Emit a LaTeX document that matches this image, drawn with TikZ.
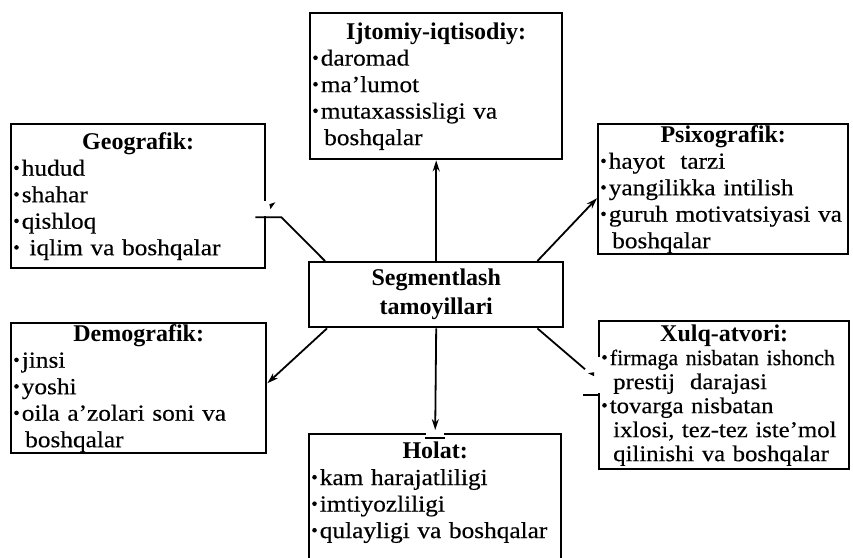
\documentclass[tikz,border=0pt]{standalone}
\usepackage{fontspec}
\setmainfont{Liberation Serif}
\newfontfamily\bodyfont[FakeStretch=1.1,FakeBold=0.4]{Liberation Serif}
\newfontfamily\bodyfontn[FakeBold=0.4]{Liberation Serif}
\usetikzlibrary{arrows.meta,calc}
\newcommand\hd[1]{\makebox[\linewidth]{\normalfont\fontsize{24}{26.5}\selectfont\bfseries #1}\\}
\newcommand\bul{\raisebox{5.5pt}{\tikz\fill (0,0) circle (2.3pt);}\hspace{3pt}}
\newcommand\cont{\hspace*{11pt}}
\begin{document}
\begin{tikzpicture}[x=1pt,y=-1pt,
  box/.style={draw, line width=2.4pt, anchor=north west, inner xsep=3pt, inner ysep=0pt,
    align=left, font=\bodyfont\fontsize{23}{26.5}\selectfont},
  conn/.style={line width=1.8pt},
  arr/.style={conn, -{Stealth[length=11pt,width=7pt]}},
  gap/.style={white, line width=5pt}]
\useasboundingbox (0,0) rectangle (853,557);

\node[box, text width=246pt, minimum height=146pt] (ijt) at (309,12)
  {\hd{Ijtomiy-iqtisodiy:}\bul daromad\\ \bul ma’lumot\\ \bul mutaxassisligi va\\ \cont boshqalar};

\node[box, text width=248pt, minimum height=144pt] (geo) at (10,123)
  {\hd{Geografik:}\bul hudud\\ \bul shahar\\ \bul qishloq\\ \bul\ iqlim va boshqalar};

\node[box, text width=244pt, minimum height=130pt] (psi) at (597,123)
  {\hd{Psixografik:}\bul hayot\ \ tarzi\\ \bul yangilikka intilish\\ \bul guruh motivatsiyasi va\\ \cont boshqalar};

\node[box, text width=248pt, minimum height=65pt, align=center,
  font=\fontsize{24}{29}\selectfont\bfseries] (cen) at (308,261)
  {Segmentlash\\ tamoyillari};

\node[box, text width=249pt, minimum height=130pt] (dem) at (10,322)
  {\hd{Demografik:}\bul jinsi\\ \bul yoshi\\ \bul oila a’zolari soni va\\ \cont boshqalar};

\node[box, text width=244pt, minimum height=148pt, font=\bodyfont\fontsize{22.5}{24}\selectfont] (xul) at (598,320)
  {\hd{Xulq-atvori:}{\bodyfontn\fontsize{22}{24}\selectfont\bul firmaga nisbatan ishonch}\\ \cont prestij\ \ darajasi\\ \bul tovarga nisbatan\\ \cont ixlosi, tez-tez iste’mol\\ \cont qilinishi va boshqalar};

\node[box, text width=246pt, minimum height=138pt] (hol) at (308,433)
  {\hd{Holat:}\bul kam harajatliligi\\ \bul imtiyozliligi\\ \bul qulayligi va boshqalar\\ \mbox{}};

% gaps in borders (scan)
\draw[gap] ([yshift=-5pt]geo.east) -- ([yshift=-20pt]geo.east);
\draw[gap] ([yshift=38pt]xul.west) -- ([yshift=2pt]xul.west);
\draw[gap] ([xshift=-9pt]hol.north) -- ([xshift=9pt]hol.north);

% connectors
\draw[arr] (cen.north) -- (ijt.south);
\draw[arr] ([xshift=-27pt]cen.north east) -- ([yshift=-9pt]psi.west);
\draw[arr] ([xshift=19pt]cen.south west) -- ([yshift=5pt]dem.east);
\draw[arr] (cen.south) -- ([yshift=3pt]hol.north);
\draw[conn] ([xshift=-10pt,yshift=-5pt]hol.north) -- ([xshift=10pt,yshift=-5pt]hol.north);

\coordinate (g1) at ([shift={(15pt,-21pt)}]geo.east);
\coordinate (g2) at ([shift={(-11pt,-21pt)}]geo.east);
\draw[conn] ([xshift=17pt]cen.north west) -- (g1) -- (g2);
\fill ([shift={(3pt,-8pt)}]geo.east) -- ([shift={(9pt,-6pt)}]geo.east) -- ([shift={(4pt,-13pt)}]geo.east) -- cycle;

\coordinate (x1) at ([shift={(-13pt,26pt)}]xul.west);
\coordinate (x2) at ([shift={(-15pt,0pt)}]xul.west);
\draw[conn] ([xshift=-27pt]cen.south east) -- (x1);
\fill ([shift={(-4pt,19pt)}]xul.west) -- ([shift={(-10pt,22pt)}]xul.west) -- ([shift={(-4pt,23pt)}]xul.west) -- cycle;
\draw[conn] (x2) -- (xul.west);
\end{tikzpicture}
\end{document}
